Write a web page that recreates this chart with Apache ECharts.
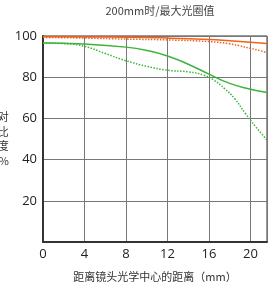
<!DOCTYPE html>
<html>
<head>
<meta charset="utf-8">
<script src="https://cdn.jsdelivr.net/npm/echarts@6/dist/echarts.min.js"></script>
<style>
  html, body { margin: 0; padding: 0; background: #fff; }
  #chart { width: 268px; height: 284px; }
</style>
</head>
<body>
<div id="chart"></div>
<script>
// 数据: [距离mm, 对比度%]
var orangeSolid = [[0, 99.6], [4, 99.5], [8, 99.4], [12, 99], [16, 98.3], [18, 97.7], [20, 97], [21.6, 96.4]];
var orangeDotted = [[0, 99.3], [4, 99], [8, 98.5], [12, 98.1], [16, 97.3], [18, 96.2], [19, 95.2], [20, 94], [21, 92.8], [21.6, 91.8]];
var greenSolid = [[0, 96.6], [4, 96.1], [8, 94.6], [10, 93], [12, 90.3], [14, 86.3], [16, 81.5], [18, 77], [20, 74.2], [21.6, 72.6]];
var greenDotted = [[0, 96.6], [2, 96.3], [4, 95], [6, 91.5], [8, 88], [10, 85.3], [12, 83.4], [14, 82.6], [15.5, 81], [16.5, 78.5], [17.5, 74.5], [18.5, 69.5], [19.5, 62.5], [20.5, 56], [21.6, 49.5]];
var xTicks = [0, 4, 8, 12, 16, 20];
var yTicks = [0, 20, 40, 60, 80, 100];

var chart = echarts.init(document.getElementById('chart'));
var txtFont = '"Noto Sans CJK SC", sans-serif';
var numFont = '"Open Sans", "Liberation Sans", sans-serif';

function lineSeries(data, color, type) {
  return {
    type: 'line',
    data: data,
    smooth: 0.5,
    symbol: 'none',
    silent: true,
    lineStyle: { color: color, width: 1.5, type: type }
  };
}

var option = {
  animation: false,
  title: {
    text: '200mm时/最大光圈值',
    left: 155,
    textAlign: 'center',
    top: 0,
    textStyle: { fontFamily: txtFont, fontSize: 11, fontWeight: 'normal', color: '#444' }
  },
  grid: {
    left: 43, right: 1, top: 36, bottom: 42,
    outerBoundsMode: 'none', containLabel: false,
    show: true, borderColor: '#333', borderWidth: 1
  },
  xAxis: {
    type: 'value',
    min: 0,
    max: 21.6,
    interval: 4,
    name: '距离镜头光学中心的距离（mm）',
    nameLocation: 'middle',
    nameGap: 29,
    nameTextStyle: { fontFamily: txtFont, fontSize: 11, color: '#333' },
    axisLine: { show: true, lineStyle: { color: '#333', width: 2 } },
    axisTick: { show: false },
    axisLabel: {
      margin: 6,
      fontFamily: numFont, fontSize: 13, color: '#222',
      showMaxLabel: false,
      formatter: function (v) { return xTicks.indexOf(v) >= 0 ? String(v) : ''; }
    },
    splitLine: { show: true, lineStyle: { color: '#777', width: 1 } }
  },
  yAxis: {
    type: 'value',
    min: 0,
    max: 100,
    interval: 20,
    name: '对\n比\n度\n%',
    nameLocation: 'middle',
    nameRotate: 0,
    nameGap: 33,
    nameTextStyle: { fontFamily: txtFont, fontSize: 11, color: '#333', lineHeight: 14.5, padding: [11, 0, 0, 0] },
    axisLine: { show: true, lineStyle: { color: '#333', width: 2 } },
    axisTick: { show: false },
    axisLabel: {
      margin: 6,
      fontFamily: numFont, fontSize: 13, color: '#222',
      formatter: function (v) { return (v > 0 && yTicks.indexOf(v) >= 0) ? String(v) : ''; }
    },
    splitLine: { show: true, lineStyle: { color: '#777', width: 1 } }
  },
  series: [
    lineSeries(greenDotted, '#3cb43c', 'dotted'),
    lineSeries(greenSolid, '#3cb43c', 'solid'),
    lineSeries(orangeDotted, '#f0621e', 'dotted'),
    lineSeries(orangeSolid, '#f0621e', 'solid')
  ]
};
chart.setOption(option);
</script>
</body>
</html>
